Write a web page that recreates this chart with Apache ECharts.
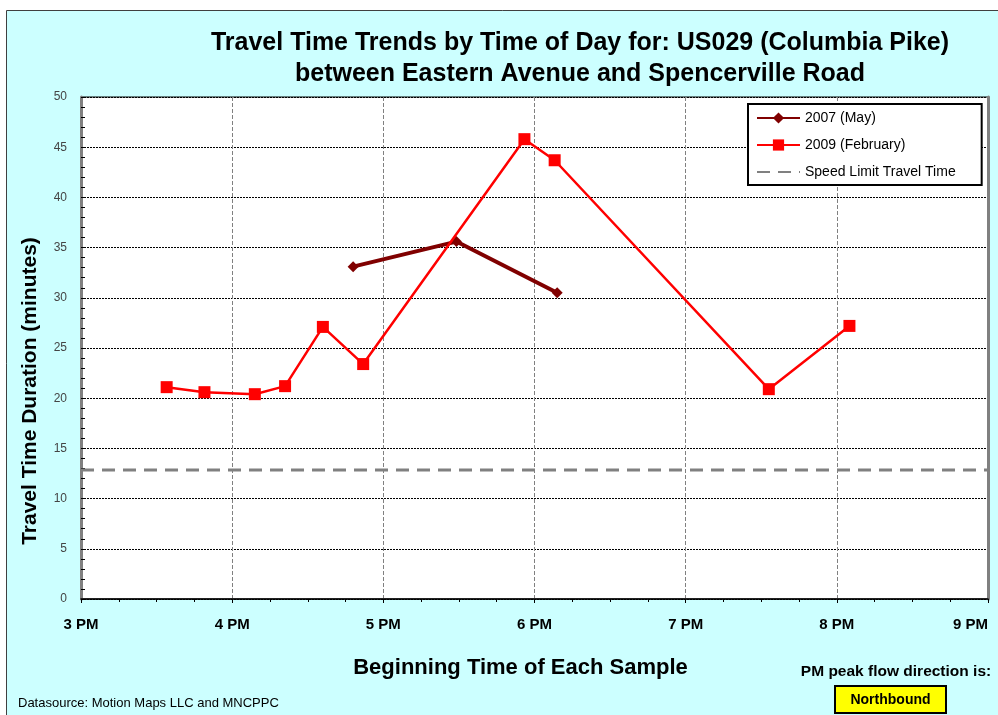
<!DOCTYPE html>
<html>
  <head>
    <meta charset="utf-8">
    <title>Travel Time Trends</title>
    <style type="text/css">
      html, body { margin: 0; padding: 0; background: #fff; }
      #box1 { width: 998px; height: 715px; }
    </style>
  </head>
  <body>
    <div id="box1"></div>
  </body>
  <script type="text/javascript" src="https://cdn.jsdelivr.net/npm/echarts@6/dist/echarts.min.js"></script>
  <script type="text/javascript">
    // sample start times and durations in minutes
    var times2007 = ["16:48", "17:29", "18:09"];
    var minutes2007 = [33.1, 35.6, 30.5];
    var times2009 = ["15:34", "15:49", "16:09", "16:21", "16:36", "16:52", "17:56", "18:08", "19:33", "20:05"];
    var minutes2009 = [21.1, 20.6, 20.4, 21.2, 27.1, 23.4, 45.8, 43.7, 20.9, 27.2];
    var speedLimitMinutes = 12.85;
    var hourTicks = [15, 16, 17, 18, 19, 20, 21];
    var hourLabels = ["3 PM", "4 PM", "5 PM", "6 PM", "7 PM", "8 PM", "9 PM"];
    var seriesNames = ["2007 (May)", "2009 (February)", "Speed Limit Travel Time"];

    function toHour(t) {
      var p = t.split(":");
      return Number(p[0]) + Number(p[1]) / 60;
    }
    function pairs(ts, vs) {
      return ts.map(function (t, i) { return [toHour(t), vs[i]]; });
    }

    var font = "Liberation Sans, Arial, sans-serif";
    var dom = document.getElementById("box1");
    var myChart = echarts.init(dom, null, { renderer: "canvas" });

    var option = {
      backgroundColor: "#ffffff",
      animation: false,
      title: {
        text: "Travel Time Trends by Time of Day for: US029 (Columbia Pike)\nbetween Eastern Avenue and Spencerville Road",
        left: 575,
        top: 23,
        textAlign: "center",
        textStyle: { fontFamily: font, fontSize: 25, fontWeight: "bold", color: "#000", lineHeight: 31 }
      },
      legend: {
        orient: "vertical",
        left: 748,
        top: 104,
        padding: [7, 26, 6, 8],
        itemGap: 13,
        itemWidth: 43,
        itemHeight: 14,
        backgroundColor: "#fff",
        borderColor: "#000",
        borderWidth: 2,
        borderRadius: 0,
        data: [
          { name: seriesNames[0] },
          { name: seriesNames[1] },
          { name: seriesNames[2], itemStyle: { opacity: 0 } }
        ],
        textStyle: { fontFamily: font, fontSize: 14, color: "#000" }
      },
      grid: {
        left: 81,
        right: 10,
        top: 97,
        bottom: 116,
        outerBoundsMode: "none",
        containLabel: false,
        show: true,
        backgroundColor: "#fff",
        borderColor: "#000",
        borderWidth: 1
      },
      xAxis: {
        type: "value",
        min: 15,
        max: 21,
        interval: 1,
        name: "Beginning Time of Each Sample",
        nameLocation: "middle",
        nameGap: 58,
        nameTextStyle: { fontFamily: font, fontSize: 22, fontWeight: "bold", color: "#000", padding: [0, 28, 0, 0] },
        axisLine: { lineStyle: { color: "#000", width: 1.5 } },
        axisTick: { show: true, length: 4, lineStyle: { color: "#000" } },
        minorTick: { show: true, splitNumber: 4, length: 3, lineStyle: { color: "#000" } },
        axisLabel: {
          margin: 18,
          fontFamily: font,
          fontSize: 15,
          fontWeight: "bold",
          color: "#000",
          alignMaxLabel: "right",
          formatter: function (v) {
            var i = hourTicks.indexOf(Math.round(v));
            return i >= 0 ? hourLabels[i] : "";
          }
        },
        splitLine: { show: true, lineStyle: { color: "#808080", width: 1, type: [4, 2] } }
      },
      yAxis: [
        {
          type: "value",
          min: 0,
          max: 50,
          interval: 5,
          axisLine: { show: true, lineStyle: { color: "#808080", width: 3 } },
          axisTick: { show: true, inside: true, length: 4, lineStyle: { color: "#000" } },
          minorTick: { show: true, splitNumber: 5, length: 4, lineStyle: { color: "#000" } },
          axisLabel: { margin: 14, fontFamily: font, fontSize: 12, color: "#444" },
          splitLine: { show: true, lineStyle: { color: "#000", width: 1, type: [2, 1] } }
        },
        {
          type: "value",
          min: 0,
          max: 50,
          position: "right",
          axisLine: { show: true, lineStyle: { color: "#808080", width: 3 } },
          axisTick: { show: false },
          axisLabel: { show: false },
          splitLine: { show: false }
        }
      ],
      series: [
        {
          name: seriesNames[0],
          type: "line",
          data: pairs(times2007, minutes2007),
          symbol: "diamond",
          symbolSize: 11,
          color: "#800000",
          lineStyle: { width: 4, color: "#800000" },
          itemStyle: { color: "#800000" },
          z: 3
        },
        {
          name: seriesNames[1],
          type: "line",
          data: pairs(times2009, minutes2009),
          symbol: "rect",
          symbolSize: 12,
          color: "#ff0000",
          lineStyle: { width: 2.5, color: "#ff0000" },
          itemStyle: { color: "#ff0000" },
          z: 4
        },
        {
          name: seriesNames[2],
          type: "line",
          data: [[15, speedLimitMinutes], [21, speedLimitMinutes]],
          symbol: "none",
          color: "#808080",
          lineStyle: { width: 3, color: "#808080", type: [13, 8] },
          z: 2
        }
      ],
      graphic: [
        {
          type: "rect",
          z: -100,
          shape: { x: 6.5, y: 10.5, width: 1000, height: 710 },
          style: { fill: "#ccffff", stroke: "#404040", lineWidth: 1 }
        },
        {
          type: "text",
          x: 30,
          y: 391,
          rotation: Math.PI / 2,
          style: {
            text: "Travel Time Duration (minutes)",
            fontFamily: font, fontSize: 21, fontWeight: "bold", fill: "#000",
            textAlign: "center", textVerticalAlign: "middle"
          }
        },
        {
          type: "text",
          x: 896,
          y: 672,
          style: {
            text: "PM peak flow direction is:",
            fontFamily: font, fontSize: 15.5, fontWeight: "bold", fill: "#000",
            textAlign: "center", textVerticalAlign: "middle"
          }
        },
        {
          type: "rect",
          shape: { x: 835, y: 686, width: 111, height: 27 },
          style: { fill: "#ffff00", stroke: "#000", lineWidth: 2 }
        },
        {
          type: "text",
          x: 890.5,
          y: 700,
          style: {
            text: "Northbound",
            fontFamily: font, fontSize: 14, fontWeight: "bold", fill: "#000",
            textAlign: "center", textVerticalAlign: "middle"
          }
        },
        {
          type: "text",
          x: 18,
          y: 703,
          style: {
            text: "Datasource: Motion Maps LLC and MNCPPC",
            fontFamily: font, fontSize: 13, fill: "#000",
            textAlign: "left", textVerticalAlign: "middle"
          }
        }
      ]
    };

    myChart.setOption(option);
    window.addEventListener("resize", myChart.resize);
  </script>
</html>
